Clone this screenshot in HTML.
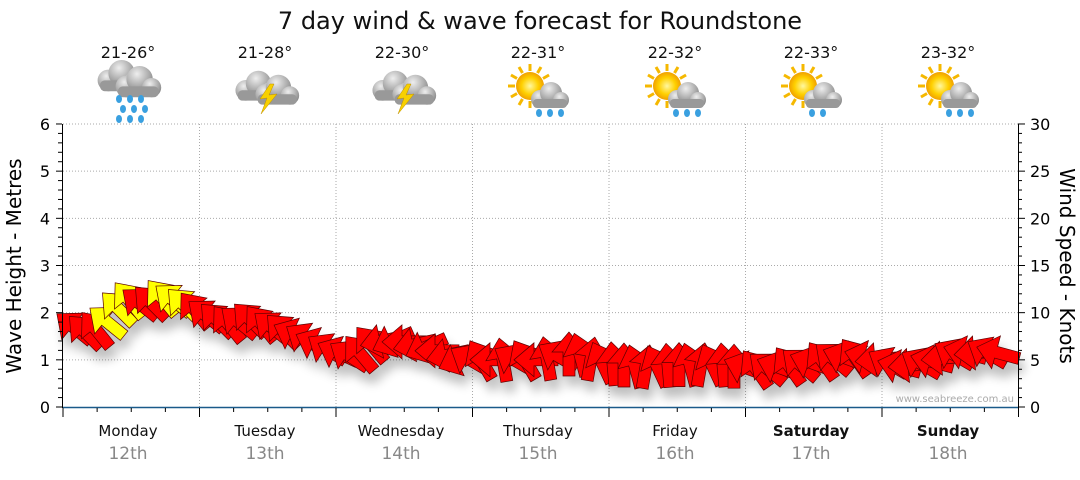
<!DOCTYPE html>
<html><head><meta charset="utf-8"><style>
body{margin:0;background:#fff;width:1080px;height:475px;overflow:hidden;font-family:"Liberation Sans","DejaVu Sans",sans-serif}
</style></head><body>
<svg id="s" width="1080" height="475" xmlns="http://www.w3.org/2000/svg" font-family="DejaVu Sans, Liberation Sans, sans-serif">
<defs>
<filter id="sh" x="-50%" y="-50%" width="200%" height="200%"><feGaussianBlur in="SourceAlpha" stdDeviation="5"/><feOffset dx="4" dy="10"/><feComponentTransfer><feFuncA type="linear" slope="0.25"/></feComponentTransfer><feMerge><feMergeNode/><feMergeNode in="SourceGraphic"/></feMerge></filter>
<radialGradient id="cg" cx="40%" cy="30%" r="70%"><stop offset="0" stop-color="#eee"/><stop offset="1" stop-color="#888"/></radialGradient>
<radialGradient id="sg" cx="50%" cy="50%" r="50%"><stop offset="0" stop-color="#fff7a0"/><stop offset="0.6" stop-color="#ffd000"/><stop offset="1" stop-color="#f0a000"/></radialGradient>
</defs>
<text x="540" y="29" font-size="24" text-anchor="middle" fill="#111">7 day wind &amp; wave forecast for Roundstone</text>
<g font-size="16" text-anchor="middle" fill="#111">
<text x="128" y="58">21-26°</text><text x="265" y="58">21-28°</text><text x="402" y="58">22-30°</text><text x="538" y="58">22-31°</text><text x="675" y="58">22-32°</text><text x="811" y="58">22-33°</text><text x="948" y="58">23-32°</text>
</g>
<g id="icons"></g>
<g id="grid" stroke="#aaa" stroke-dasharray="1,2" stroke-width="1"></g>
<g id="arrows" filter="url(#sh)"></g>
<line x1="63" y1="407.5" x2="1018" y2="407.5" stroke="#1a5a8a" stroke-width="1.5"/>
<line x1="62.5" y1="124" x2="62.5" y2="408" stroke="#000"/>
<line x1="1018.5" y1="124" x2="1018.5" y2="408" stroke="#000"/>
<g id="ticks" stroke="#000"></g>
<g font-size="16" fill="#000" text-anchor="end" id="ly"></g>
<g font-size="16" fill="#000" id="ry"></g>
<text transform="translate(21,266) rotate(-90)" font-size="20" text-anchor="middle">Wave Height - Metres</text>
<text transform="translate(1060,266) rotate(90)" font-size="20" text-anchor="middle">Wind Speed - Knots</text>
<text x="1014" y="402" font-size="10" fill="#aaa" text-anchor="end">www.seabreeze.com.au</text>
<g font-size="15" text-anchor="middle" fill="#111">
<text x="128" y="436">Monday</text><text x="265" y="436">Tuesday</text><text x="401" y="436">Wednesday</text><text x="538" y="436">Thursday</text><text x="675" y="436">Friday</text><text x="811" y="436" font-weight="bold">Saturday</text><text x="948" y="436" font-weight="bold">Sunday</text>
</g>
<g font-size="17" text-anchor="middle" fill="#888">
<text x="128" y="459">12th</text><text x="265" y="459">13th</text><text x="401" y="459">14th</text><text x="538" y="459">15th</text><text x="675" y="459">16th</text><text x="811" y="459">17th</text><text x="948" y="459">18th</text>
</g>
</svg>
<script>
var NS="http://www.w3.org/2000/svg";
function el(p,t,a){var e=document.createElementNS(NS,t);for(var k in a)e.setAttribute(k,a[k]);p.appendChild(e);return e;}
var X0=63,DW=136.5,Y0=407,MH=47.17;
var g=document.getElementById('grid');
for(var i=1;i<=6;i++){var y=Y0-i*MH;el(g,'line',{x1:63,x2:1018,y1:y,y2:y});}
for(var d=1;d<7;d++){var x=X0+d*DW;el(g,'line',{x1:x,x2:x,y1:124,y2:407});}
var t=document.getElementById('ticks');
for(var q=0;q<=28;q++){var x=X0+q*DW/4;el(t,'line',{x1:x,x2:x,y1:408,y2:q%4==0?417:412});}
for(var i=0;i<=30;i++){var y=Y0-i*MH*6/30;
 if(i%5==0){el(t,'line',{x1:56,x2:62,y1:y,y2:y});}else el(t,'line',{x1:58,x2:62,y1:y,y2:y});
 if(i%5==0)el(t,'line',{x1:1018,x2:1025,y1:y,y2:y});else el(t,'line',{x1:1018,x2:1022,y1:y,y2:y});}
var ly=document.getElementById('ly');for(var i=0;i<=6;i++){var e=el(ly,'text',{x:50,y:Y0-i*MH+6});e.textContent=i;}
var ry=document.getElementById('ry');for(var i=0;i<=30;i+=5){var e=el(ry,'text',{x:1030,y:Y0-i*MH/5+6});e.textContent=i;}
var H=[[66,1.75],[90,1.55],[110,1.85],[125,2.3],[145,2.15],[165,2.35],[185,2.15],[210,1.9],[230,1.75],[250,1.85],[270,1.7],[300,1.5],[330,1.2],[355,1.05],[375,1.4],[400,1.4],[430,1.25],[460,1.0],[500,1.0],[540,1.0],[575,1.15],[600,0.95],[640,0.85],[680,0.9],[720,0.9],[760,0.8],[800,0.9],[840,1.05],[870,1.05],[900,0.85],[930,0.95],[960,1.15],[990,1.15],[1018,1.15]];
function hAt(x){for(var i=0;i<H.length-1;i++){if(x<=H[i+1][0]){var f=(x-H[i][0])/(H[i+1][0]-H[i][0]);return H[i][1]+f*(H[i+1][1]-H[i][1]);}}return H[H.length-1][1];}
function dir(x,k){
 if(x<290)return -135+((k%3)-1)*6;
 if(x<360)return -155+((k%2)*8);
 if(x<380)return -130;
 if(x<470)return 180-((k%3)*12);
 if(x<560)return [-150,-120,180,-100][k%4];
 if(x<740)return [-90,-105,-80,-115,-95][k%5];
 if(x<860)return [-140,-160,-125][k%3];
 if(x<1000)return [-165,175,-150][k%3];
 return 160;}
var A=document.getElementById('arrows');
var pts="22,0 2,-17 2,-6 -22,-6 -22,6 2,6 2,17";
var k=0;
for(var x=74;x<=1008;x+=11){var h=hAt(x);var y=Y0-h*MH;
 var yl=(x>105&&x<135)||(x>155&&x<195);
 el(A,'polygon',{points:pts,fill:yl?'#ffff00':'#ff0000',stroke:'#5a0000','stroke-width':'0.7',transform:'translate('+x.toFixed(1)+','+y.toFixed(1)+') rotate('+dir(x,k)+')'});k++;}
var I=document.getElementById('icons');
function cloud(cx,cy,s){var g=el(I,'g',{transform:'translate('+cx+','+cy+') scale('+s+')'});
 el(g,'circle',{cx:-8,cy:2,r:9,fill:'url(#cg)'});el(g,'circle',{cx:3,cy:-4,r:11,fill:'url(#cg)'});el(g,'circle',{cx:13,cy:3,r:8,fill:'url(#cg)'});el(g,'rect',{x:-15,y:2,width:34,height:9,rx:4,fill:'#999'});}
function sun(cx,cy){for(var a=0;a<360;a+=30){var r=a*Math.PI/180;el(I,'line',{x1:cx+Math.cos(r)*15,y1:cy+Math.sin(r)*15,x2:cx+Math.cos(r)*22,y2:cy+Math.sin(r)*22,stroke:'#f5b800','stroke-width':3});}el(I,'circle',{cx:cx,cy:cy,r:14,fill:'url(#sg)'});}
function drops(cx,cy,n){for(var i=0;i<n;i++){var r=Math.floor(i/3);var c=i%3;el(I,'ellipse',{cx:cx+c*11-11+(r%2)*4,cy:cy+r*10,rx:3,ry:4,fill:'#3aa0e0'});}}
function bolt(cx,cy){el(I,'polygon',{points:(cx+3)+','+(cy-10)+' '+(cx-7)+','+(cy+5)+' '+(cx)+','+(cy+4)+' '+(cx-6)+','+(cy+20)+' '+(cx+10)+','+(cy)+' '+(cx+2)+','+(cy+1)+' '+(cx+7)+','+(cy-10),fill:'#f7d000',stroke:'#c09000','stroke-width':0.5});}
cloud(118,78,1.2);cloud(136,84,1.2);drops(130,99,9);
cloud(255,88,1.15);cloud(275,92,1.15);bolt(267,94);
cloud(392,88,1.15);cloud(412,92,1.15);bolt(404,94);
[538,675,811,948].forEach(function(cx,i){sun(cx-8,86);cloud(cx+10,97,1.0);drops(cx+12,113,i==2?2:3);});
</script>
</body></html>
